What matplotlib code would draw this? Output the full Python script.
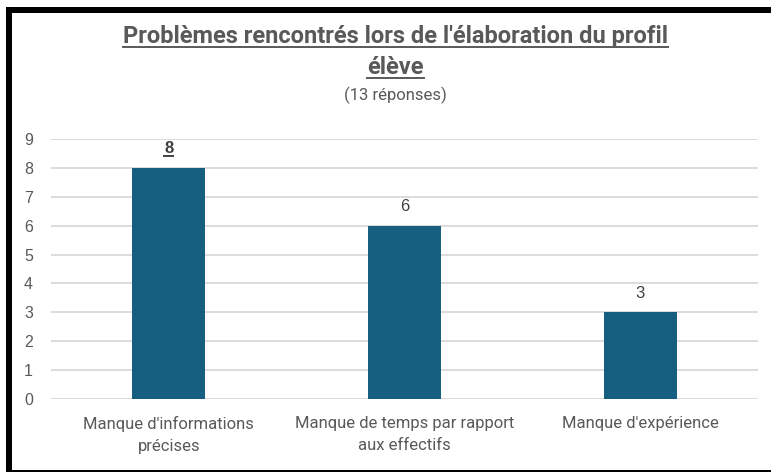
import matplotlib
matplotlib.use("Agg")
import matplotlib.pyplot as plt
from matplotlib.patches import Rectangle
from matplotlib.lines import Line2D

categories = ["Manque d'informations\nprécises",
              "Manque de temps par rapport\naux effectifs",
              "Manque d'expérience"]
values = [8, 6, 3]
yticks = list(range(0, 10))
title_line1 = "Problèmes rencontrés lors de l'élaboration du profil"
title_line2 = "élève"
subtitle = "(13 réponses)"

W, H = 771, 472
DPI = 100
fig = plt.figure(figsize=(W / DPI, H / DPI), dpi=DPI)
fig.patch.set_facecolor("white")

def fx(px):
    return px / W

def fy(py):
    return 1 - py / H

ax = fig.add_axes([fx(51), fy(399), fx(758) - fx(51), fy(139) - fy(399)])
bar_color = "#175f80"
x = list(range(len(categories)))
ax.bar(x, values, width=0.31, color=bar_color, zorder=3)
ax.set_xlim(-0.5, len(categories) - 0.5)
ax.set_ylim(0, 9)
ax.set_yticks(yticks)
ax.set_yticklabels([str(t) for t in yticks], fontfamily="Liberation Sans",
                   fontsize=11.5, color="#595959")
ax.set_xticks(x)
ax.set_xticklabels(categories, fontfamily="Roboto", fontsize=12, color="#595959",
                   linespacing=1.65)
ax.tick_params(axis="both", length=0)
ax.tick_params(axis="y", pad=13)
ax.tick_params(axis="x", pad=12)
for s in ax.spines.values():
    s.set_visible(False)
ax.grid(axis="y", color="#d9d9d9", linewidth=1.3, zorder=0)
ax.set_axisbelow(True)

label_texts = []
for i, v in enumerate(values):
    bold = (i == 0)
    t = ax.annotate(str(v), (x[i], v), xytext=(0, 10.5), textcoords="offset points",
                    ha="center", va="baseline", fontfamily="Liberation Sans",
                    fontsize=12, color="#404040",
                    fontweight="bold" if bold else "normal")
    label_texts.append((t, bold))

t1 = fig.text(0.513, fy(43), title_line1, ha="center", va="baseline",
              fontfamily="Roboto", fontweight="bold", fontsize=17, color="#595959")
t2 = fig.text(0.513, fy(74), title_line2, ha="center", va="baseline",
              fontfamily="Roboto", fontweight="bold", fontsize=17, color="#595959")
t3 = fig.text(0.513, fy(95), subtitle, ha="center", va="center",
              fontfamily="Roboto", fontsize=12, color="#595959")

# border
fig.add_artist(Rectangle((fx(6), fy(13)), 1 - fx(6), fy(7) - fy(13),
                         transform=fig.transFigure, color="black", lw=0))
fig.add_artist(Rectangle((fx(6), fy(471)), fx(12) - fx(6), fy(7) - fy(471),
                         transform=fig.transFigure, color="black", lw=0))
fig.add_artist(Rectangle((fx(6), fy(471.5)), 1 - fx(6), fy(469.5) - fy(471.5),
                         transform=fig.transFigure, color="black", lw=0))

# underlines
fig.canvas.draw()
r = fig.canvas.get_renderer()

def underline(txt, base_px, below=4, lw=1.4, color="#595959"):
    bb = txt.get_window_extent(renderer=r)
    y = fy(base_px + below)
    fig.add_artist(Line2D([bb.x0 / W, bb.x1 / W], [y, y],
                          transform=fig.transFigure, color=color, lw=lw))

underline(t1, 43)
underline(t2, 74)
for t, bold in label_texts:
    if bold:
        base = H - (ax.transData.transform((0, values[0]))[1] + 10.5 * DPI / 72)
        underline(t, base, below=3, color="#404040")

fig.savefig("out.png", dpi=DPI)
